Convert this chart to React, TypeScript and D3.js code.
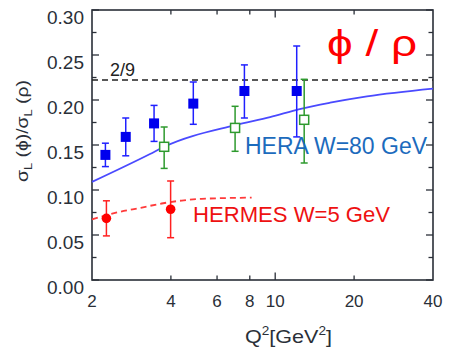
import React from "react";
import * as d3 from "d3";

const W = 450;
const H = 351;

// HERA filled squares
const heraQ2 = [2.25, 2.69, 3.45, 4.87, 7.63, 12.08];
const heraVal = [0.139, 0.159, 0.174, 0.196, 0.21, 0.21];
const heraLo = [0.126, 0.138, 0.154, 0.173, 0.18, 0.159];
const heraHi = [0.152, 0.18, 0.194, 0.22, 0.239, 0.26];

// HERA open squares
const openQ2 = [3.77, 7.03, 12.9];
const openVal = [0.148, 0.169, 0.178];
const openLo = [0.124, 0.143, 0.13];
const openHi = [0.17, 0.193, 0.223];

// HERMES points
const hermesQ2 = [2.27, 3.99];
const hermesVal = [0.0685, 0.0786];
const hermesLo = [0.049, 0.047];
const hermesHi = [0.088, 0.11];

// Model curves
const heraCurveQ2 = [2, 3.33, 3.77, 7.03, 9.56, 12.4, 16.2, 22.4, 40];
const heraCurveVal = [0.109, 0.14, 0.148, 0.172, 0.181, 0.19, 0.197, 0.204, 0.2126];
const hermesCurveQ2 = [2, 2.45, 3.1, 3.69, 4.4, 5.24, 8.13];
const hermesCurveVal = [0.0674, 0.0745, 0.0805, 0.085, 0.0883, 0.0902, 0.0915];

const xTickLabels = [2, 4, 6, 8, 10, 20, 40];
const xMinorTicks = [4, 6, 8, 20];
const xMajorTicks = [10];
const yTickLabels = [0, 0.05, 0.1, 0.15, 0.2, 0.25, 0.3];
const yMinorTicks = [0.025, 0.075, 0.125, 0.175, 0.225, 0.275];
const ratio29 = 2 / 9;

const x = d3.scaleLog().domain([2, 40]).range([92, 433]);
const y = d3.scaleLinear().domain([0, 0.3]).range([280, 10]);

const FONT = "'Liberation Sans', Arial, sans-serif";
const AX = "#2a2f38";

function ErrBar({ xv, lo, hi, color }: { xv: number; lo: number; hi: number; color: string }) {
  const px = x(xv);
  const cap = 3.5;
  return (
    <g stroke={color} strokeWidth={1.5} fill="none">
      <line x1={px} x2={px} y1={y(lo)} y2={y(hi)} />
      <line x1={px - cap} x2={px + cap} y1={y(lo)} y2={y(lo)} />
      <line x1={px - cap} x2={px + cap} y1={y(hi)} y2={y(hi)} />
    </g>
  );
}

export default function App() {
  const lineGen = d3
    .line<[number, number]>()
    .x((d) => x(d[0]))
    .y((d) => y(d[1]))
    .curve(d3.curveMonotoneX);
  const heraCurve = lineGen(heraCurveQ2.map((q, i) => [q, heraCurveVal[i]]));
  const hermesCurve = lineGen(hermesCurveQ2.map((q, i) => [q, hermesCurveVal[i]]));
  const [x0, x1] = x.range();
  const [yb, yt] = y.range();

  return (
    <svg width={W} height={H} style={{ position: "absolute", left: 0, top: 0, background: "#fff" }}>
      {/* ticks */}
      <g stroke={AX} strokeWidth={1.3}>
        {yTickLabels.map((v) => (
          <g key={"ym" + v}>
            <line x1={x0} x2={x0 + 7} y1={y(v)} y2={y(v)} />
            <line x1={x1} x2={x1 - 7} y1={y(v)} y2={y(v)} />
          </g>
        ))}
        {yMinorTicks.map((v) => (
          <g key={"yn" + v}>
            <line x1={x0} x2={x0 + 4.5} y1={y(v)} y2={y(v)} />
            <line x1={x1} x2={x1 - 4.5} y1={y(v)} y2={y(v)} />
          </g>
        ))}
        {xMinorTicks.map((v) => (
          <g key={"xn" + v}>
            <line x1={x(v)} x2={x(v)} y1={yb} y2={yb - 4.5} />
            <line x1={x(v)} x2={x(v)} y1={yt} y2={yt + 4.5} />
          </g>
        ))}
        {xMajorTicks.map((v) => (
          <g key={"xm" + v}>
            <line x1={x(v)} x2={x(v)} y1={yb} y2={yb - 7.5} />
            <line x1={x(v)} x2={x(v)} y1={yt} y2={yt + 7.5} />
          </g>
        ))}
      </g>
      {/* frame */}
      <rect x={x0} y={yt} width={x1 - x0} height={yb - yt} fill="none" stroke={AX} strokeWidth={1.6} />

      {/* 2/9 line */}
      <line x1={x0} x2={x1} y1={y(ratio29)} y2={y(ratio29)} stroke="#222" strokeWidth={1.5} strokeDasharray="6 4" />
      <text x={110} y={76} fontFamily={FONT} fontSize={18} fill="#222">2/9</text>

      {/* curves */}
      <path d={heraCurve || ""} fill="none" stroke="#4a4aff" strokeWidth={1.8} />
      <path d={hermesCurve || ""} fill="none" stroke="#ff3a3a" strokeWidth={1.8} strokeDasharray="6 4" />

      {/* HERA filled */}
      {heraQ2.map((q, i) => (
        <g key={"h" + i}>
          <ErrBar xv={q} lo={heraLo[i]} hi={heraHi[i]} color="#2020ff" />
          <rect x={x(q) - 5} y={y(heraVal[i]) - 5} width={10} height={10} fill="#0000ee" />
        </g>
      ))}
      {/* open */}
      {openQ2.map((q, i) => (
        <g key={"o" + i}>
          <ErrBar xv={q} lo={openLo[i]} hi={openHi[i]} color="#2e9a2e" />
          <rect x={x(q) - 4.5} y={y(openVal[i]) - 4.5} width={9} height={9} fill="#fff" stroke="#2e9a2e" strokeWidth={1.5} />
        </g>
      ))}
      {/* HERMES */}
      {hermesQ2.map((q, i) => (
        <g key={"r" + i}>
          <ErrBar xv={q} lo={hermesLo[i]} hi={hermesHi[i]} color="#ff2020" />
          <circle cx={x(q)} cy={y(hermesVal[i])} r={4.8} fill="#ff0000" />
        </g>
      ))}

      {/* labels */}
      <text x={245} y={154} fontFamily={FONT} fontSize={23} fill="#1c6bbd" textLength={182} lengthAdjust="spacingAndGlyphs">HERA W=80 GeV</text>
      <text x={193} y={222} fontFamily={FONT} fontSize={22} fill="#ee1111" textLength={197} lengthAdjust="spacingAndGlyphs">HERMES W=5 GeV</text>
      <text x={327} y={56} fontFamily={FONT} fontSize={36} fill="#ff0000" textLength={90} lengthAdjust="spacingAndGlyphs">ϕ / ρ</text>

      {/* y tick labels */}
      {yTickLabels.map((v) => (
        <text key={"yl" + v} x={84} y={y(v) + 7} dy="0.35em" textAnchor="end" fontFamily={FONT} fontSize={19} fill={AX}>
          {v.toFixed(2)}
        </text>
      ))}
      {/* x tick labels */}
      {xTickLabels.map((v) => (
        <text key={"xl" + v} x={x(v)} y={307} textAnchor="middle" fontFamily={FONT} fontSize={17} fill={AX}>
          {v}
        </text>
      ))}

      {/* x title */}
      <text x={245} y={343} fontFamily={FONT} fontSize={19} fill={AX} textLength={87} lengthAdjust="spacingAndGlyphs">
        Q<tspan dy={-8} fontSize={12}>2</tspan>
        <tspan dy={8}>[GeV</tspan>
        <tspan dy={-8} fontSize={12}>2</tspan>
        <tspan dy={8}>]</tspan>
      </text>

      {/* y title */}
      <text transform="translate(28,182) rotate(-90)" fontFamily={FONT} fontSize={16.5} fill={AX} textLength={102} lengthAdjust="spacingAndGlyphs">
        σ<tspan dy={4} fontSize={11}>L</tspan>
        <tspan dy={-4}> (ϕ)/σ</tspan>
        <tspan dy={4} fontSize={11}>L</tspan>
        <tspan dy={-4}> (ρ)</tspan>
      </text>
    </svg>
  );
}
